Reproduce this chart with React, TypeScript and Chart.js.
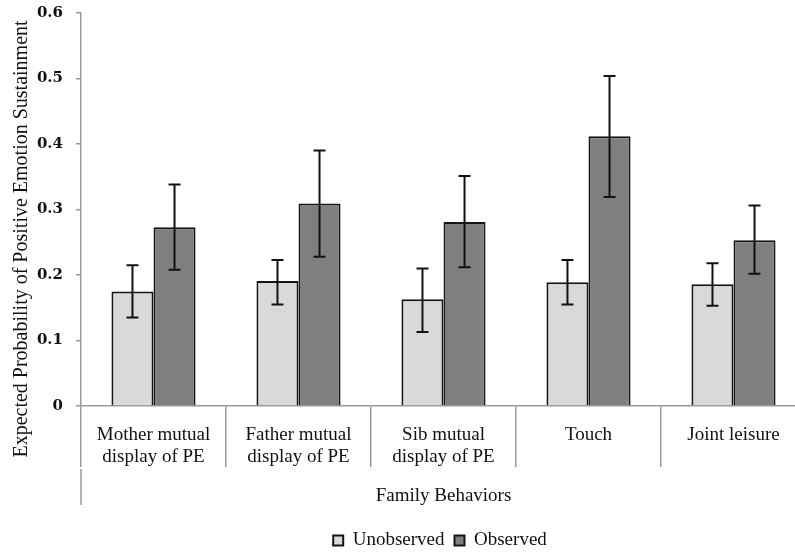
import React, { useEffect, useRef } from "react";
import { Chart, registerables } from "chart.js";

Chart.register(...registerables);

const categories: (string | string[])[] = [
  ["Mother mutual", "display of PE"],
  ["Father mutual", "display of PE"],
  ["Sib mutual", "display of PE"],
  "Touch",
  "Joint leisure",
];
const unobserved = [0.175, 0.191, 0.163, 0.189, 0.186];
const unobservedLow = [0.135, 0.155, 0.113, 0.155, 0.153];
const unobservedHigh = [0.215, 0.223, 0.21, 0.223, 0.218];
const observed = [0.273, 0.309, 0.281, 0.412, 0.253];
const observedLow = [0.208, 0.228, 0.212, 0.319, 0.202];
const observedHigh = [0.338, 0.39, 0.351, 0.504, 0.306];
const yTicks = [0, 0.1, 0.2, 0.3, 0.4, 0.5, 0.6];
const yTitle = "Expected Probability of Positive Emotion Sustainment";
const xTitle = "Family Behaviors";

const lows = [unobservedLow, observedLow];
const highs = [unobservedHigh, observedHigh];

const errorBars = {
  id: "errorBars",
  afterDatasetsDraw(chart: any) {
    const ctx = chart.ctx;
    const yScale = chart.scales.y;
    ctx.save();
    ctx.strokeStyle = "#111";
    ctx.lineWidth = 2;
    chart.data.datasets.forEach((_: any, i: number) => {
      const meta = chart.getDatasetMeta(i);
      meta.data.forEach((el: any, j: number) => {
        const x = el.x;
        const yl = yScale.getPixelForValue(lows[i][j]);
        const yh = yScale.getPixelForValue(highs[i][j]);
        ctx.beginPath();
        ctx.moveTo(x, yl);
        ctx.lineTo(x, yh);
        ctx.moveTo(x - 6, yl);
        ctx.lineTo(x + 6, yl);
        ctx.moveTo(x - 6, yh);
        ctx.lineTo(x + 6, yh);
        ctx.stroke();
      });
    });
    ctx.restore();
  },
};

const decorations = {
  id: "decorations",
  afterDraw(chart: any) {
    const ctx = chart.ctx;
    const area = chart.chartArea;
    ctx.save();
    // extended left divider of the grouped category axis
    ctx.strokeStyle = "#999";
    ctx.lineWidth = 1.5;
    ctx.beginPath();
    ctx.moveTo(area.left, area.bottom + 63);
    ctx.lineTo(area.left, area.bottom + 99);
    ctx.stroke();
    // y axis title
    ctx.translate(27, 239);
    ctx.rotate(-Math.PI / 2);
    ctx.fillStyle = "#111";
    ctx.font = '20px "Liberation Serif"';
    ctx.textAlign = "center";
    ctx.textBaseline = "alphabetic";
    ctx.fillText(yTitle, 0, 0);
    ctx.restore();
  },
};

export default function App() {
  const ref = useRef<HTMLCanvasElement | null>(null);
  useEffect(() => {
    if (!ref.current) return;
    const chart = new Chart(ref.current, {
      type: "bar",
      data: {
        labels: categories,
        datasets: [
          {
            label: "Unobserved",
            data: unobserved,
            backgroundColor: "#d9d9d9",
            borderColor: "#151515",
            borderWidth: 2,
          },
          {
            label: "Observed",
            data: observed,
            backgroundColor: "#7f7f7f",
            borderColor: "#151515",
            borderWidth: 2,
          },
        ],
      },
      options: {
        responsive: false,
        animation: false,
        devicePixelRatio: 1,
        layout: { padding: { left: 74, right: 24, top: 13, bottom: 0 } },
        datasets: { bar: { categoryPercentage: 0.58, barPercentage: 1 } },
        plugins: {
          tooltip: { enabled: false },
          legend: {
            position: "bottom",
            labels: {
              boxWidth: 10,
              boxHeight: 10,
              padding: 10,
              color: "#111",
              font: { family: '"Liberation Serif"', size: 19 },
            },
          },
        },
        scales: {
          x: {
            afterFit: (s: any) => {
              s.height = 115;
            },
            grid: {
              offset: true,
              drawOnChartArea: false,
              drawTicks: true,
              tickLength: 61,
              color: "#999",
              lineWidth: 1.5,
            },
            border: { display: true, color: "#999", width: 1.5 },
            ticks: {
              padding: -43,
              maxRotation: 0,
              autoSkip: false,
              color: "#111",
              font: { family: '"Liberation Serif"', size: 19, lineHeight: 1.15 },
            },
            title: {
              display: true,
              text: xTitle,
              color: "#111",
              font: { family: '"Liberation Serif"', size: 19 },
              padding: { top: 0, bottom: 14 },
            },
          },
          y: {
            min: 0,
            max: 0.6,
            afterFit: (s: any) => {
              s.width = 7;
              s.paddingTop = 0;
              s.paddingBottom = 0;
              // let tick labels extend left of the narrow scale box
              s._computeLabelArea = () => undefined;
            },
            afterBuildTicks: (s: any) => {
              s.ticks = yTicks.map((v) => ({ value: v }));
            },
            grid: {
              drawOnChartArea: false,
              drawTicks: true,
              tickLength: 5,
              color: "#999",
              lineWidth: 1.5,
            },
            border: { display: true, color: "#999", width: 1.5 },
            ticks: {
              padding: 13,
              color: "#111",
              font: { family: '"DejaVu Serif"', size: 15, weight: "bold" },
              callback: (v: any) => (Number(v) === 0 ? "0" : Number(v).toFixed(1)),
            },
          },
        },
      },
      plugins: [errorBars, decorations],
    });
    return () => chart.destroy();
  }, []);
  return (
    <div
      style={{
        position: "fixed",
        left: 0,
        top: 0,
        width: 795,
        height: 552,
        overflow: "hidden",
        background: "#fff",
      }}
    >
      <canvas ref={ref} width={830} height={560} style={{ display: "block", width: 830, height: 560 }} />
    </div>
  );
}
